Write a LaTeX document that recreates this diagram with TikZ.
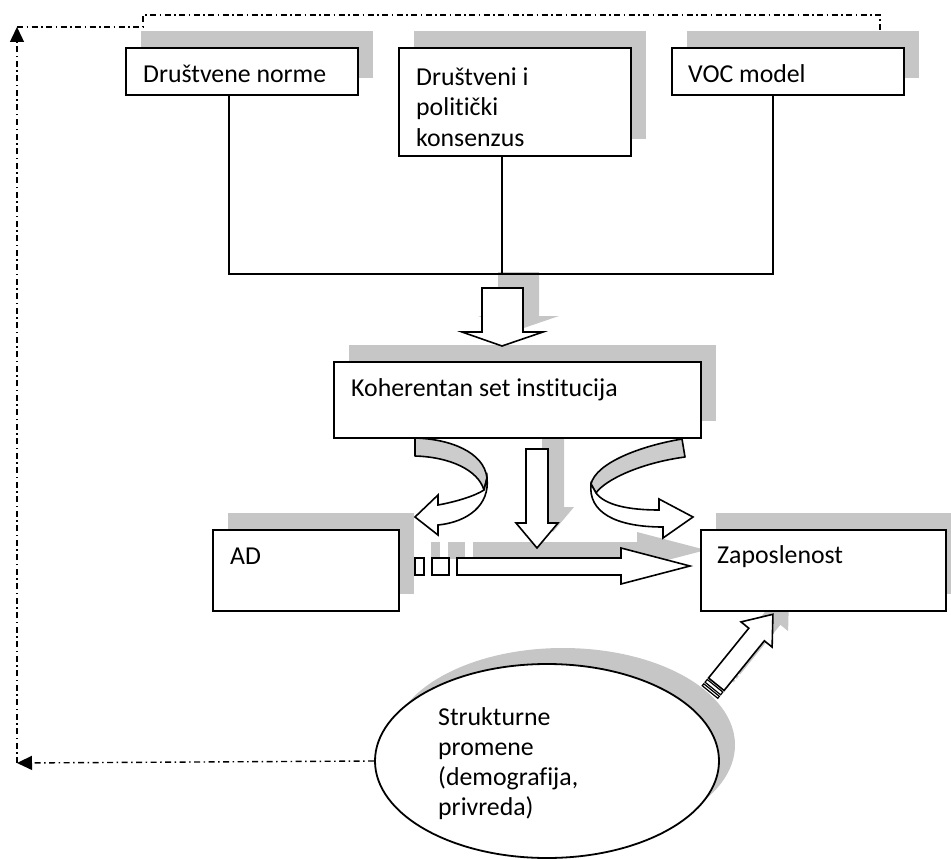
\documentclass[tikz,border=0pt]{standalone}
\usepackage{fontspec}
\setmainfont{Carlito}[Ligatures={NoCommon}]
\usetikzlibrary{shapes.geometric,arrows.meta}
\begin{document}
\begin{tikzpicture}[x=1pt,y=-1pt,
  every node/.style={inner sep=0pt},
  lbl/.style={anchor=base west, font=\fontsize{25.8pt}{30pt}\selectfont},
  box/.style={draw=black, line width=1.8pt, fill=white, anchor=north west},
  shade/.style={fill=gray!45, draw=none},
  blk/.style={draw=black, line width=1.6pt, fill=white, line join=miter},
  band/.style={draw=black, line width=1.6pt, fill=gray!40, line join=round},
  wire/.style={line width=1.7pt},
  fb/.style={line width=1.4pt, dash pattern=on 6pt off 3.5pt on 1.5pt off 3.5pt},
  fbtip/.style={-{Triangle[length=15pt,width=14pt]}},
]
\useasboundingbox (0,0) rectangle (951,859);

% block arrows (drawn twice: once as shadow, once as outline)
\newcommand\blockarrows[1]{%
  \path[#1] (482,288) -- (523,288) -- (523,332) -- (543,332) -- (502,346)
            -- (462,332) -- (482,332) -- cycle;
  \path[#1] (526,449) -- (548,449) -- (548,523) -- (558,523) -- (537,548)
            -- (516,523) -- (526,523) -- cycle;
  \path[#1] (415,558) rectangle (424,575);
  \path[#1] (432,558) rectangle (449,575);
  \path[#1] (457,558) -- (621,558) -- (621,548) -- (690,566) -- (621,584)
            -- (621,575) -- (457,575) -- cycle;
  \begin{scope}[shift={(710,692)}, rotate=51]
    \path[#1, line width=1.2pt] (0,-10) rectangle (2.5,10);
    \path[#1, line width=1.2pt] (4.5,-10) rectangle (8,10);
    \path[#1] (10,-10) -- (74,-10) -- (74,-20) -- (100,0) -- (74,20)
              -- (74,10) -- (10,10) -- cycle;
  \end{scope}
}

% shadows
\fill[shade] (141,31) rectangle (373,78);
\fill[shade] (414,31) rectangle (646,139);
\fill[shade] (687,31) rectangle (919,78);
\fill[shade] (349,345) rectangle (716,421);
\fill[shade] (228,513) rectangle (414,594);
\fill[shade] (716,513) rectangle (961,594);
\fill[shade] (563,745) ellipse [x radius=172, y radius=97];
\begin{scope}[shift={(16,-16)}]
  \blockarrows{shade}
\end{scope}

% boxes
\node[box, minimum width=232pt, minimum height=47pt]  (b1) at (125,47) {};
\node[box, minimum width=232pt, minimum height=108pt] (b2) at (398,47) {};
\node[box, minimum width=232pt, minimum height=47pt]  (b3) at (671,47) {};
\node[box, minimum width=367pt, minimum height=76pt]  (kb) at (333,361) {};
\node[box, minimum width=186pt, minimum height=81pt]  (ad) at (212,529) {};
\node[box, minimum width=245pt, minimum height=81pt]  (zp) at (700,529) {};
\node[draw, ellipse, line width=1.8pt, fill=white,
      minimum width=344pt, minimum height=194pt] (ell) at (547,761) {};

% texts
\node[lbl] (t1)  at (143,82)  {Društvene norme};
\node[lbl] (t2a) at (416,85)  {Društveni i};
\node[lbl] (t2b) at (416,115) {politički};
\node[lbl] (t2c) at (416,146) {konsenzus};
\node[lbl] (t3)  at (688,82)  {VOC model};
\node[lbl] (tk)  at (351,396) {Koherentan set institucija};
\node[lbl] (ta)  at (230,564) {AD};
\node[lbl] (tz)  at (717,563) {Zaposlenost};
\node[lbl] (te1) at (438,725) {Strukturne};
\node[lbl] (te2) at (438,755) {promene};
\node[lbl] (te3) at (438,785) {(demografija,};
\node[lbl] (te4) at (438,815) {privreda)};

% joining lines from the three upper boxes
\coordinate (j1) at (229,274);
\coordinate (j2) at (502,274);
\coordinate (j3) at (773,274);
\draw[wire] (b1.south -| j1) -- (j1) -- (j3) -- (b3.south -| j3);
\draw[wire] (b2.south -| j2) -- (j2);

% block arrows
\blockarrows{blk}

% curved ribbon arrows below the institutions box
\draw[band] (415,438) .. controls (450,439) and (484,452) .. (487,478)
  -- (484,490) .. controls (478,470) and (450,457) .. (415,456) -- cycle;
\draw[blk] (487,478) .. controls (490,505) and (468,522) .. (438,525)
  -- (438,535) -- (415,517) -- (438,495) -- (438,505)
  .. controls (455,502) and (475,496) .. (484,490) -- cycle;
\draw[band] (682,439) .. controls (640,446) and (596,463) .. (591,484)
  -- (596,493) .. controls (605,480) and (640,463) .. (685,457) -- cycle;
\draw[blk] (591,484) .. controls (588,512) and (615,527) .. (663,527)
  -- (663,538) -- (693,517) -- (659,499) -- (659,510)
  .. controls (628,510) and (605,505) .. (596,493) -- cycle;

% feedback path
\coordinate (fbl) at (17,763);
\coordinate (fbt) at (17,27);
\coordinate (fbm) at (143,15);
\coordinate (fbr) at (880,31);
\draw[fb, fbtip] (ell.west) -- (fbl);
\draw[fb, fbtip] (fbl) -- (fbt);
\draw[fb] (fbt) -| (fbm) -| (fbr);
\end{tikzpicture}
\end{document}
